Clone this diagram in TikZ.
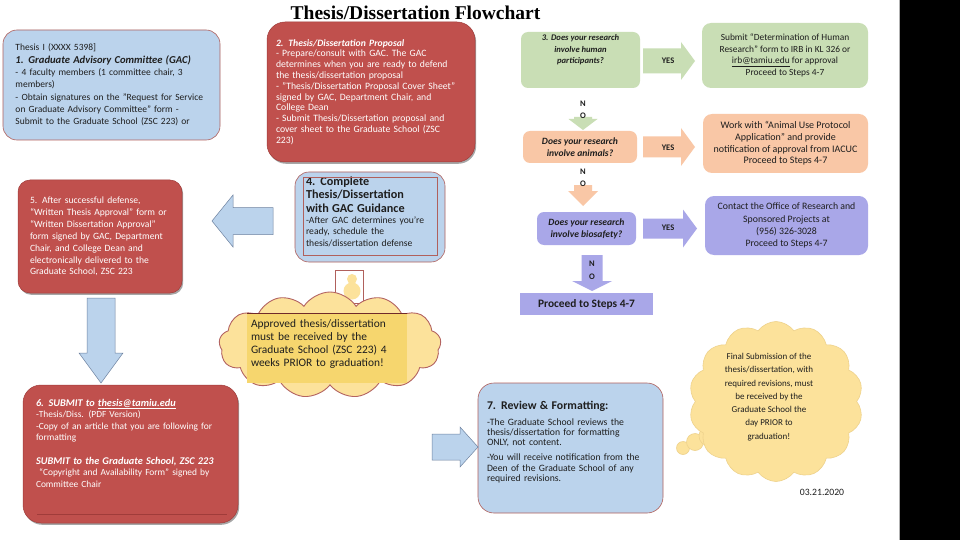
\documentclass[tikz,border=0pt]{standalone}
\usepackage{fontspec}
\setmainfont{Carlito}
\newfontfamily\titlefont{Liberation Serif}
\usetikzlibrary{shapes.symbols,calc,shadows}
\definecolor{cBlue}{RGB}{187,211,236}
\definecolor{cBlueEdge}{RGB}{176,96,92}
\definecolor{cArrowEdge}{RGB}{110,130,160}
\definecolor{cRed}{RGB}{192,80,77}
\definecolor{cRedDark}{RGB}{160,60,58}
\definecolor{cGreen}{RGB}{201,222,181}
\definecolor{cOrange}{RGB}{249,199,166}
\definecolor{cPurple}{RGB}{169,167,232}
\definecolor{cYellow}{RGB}{252,226,155}
\definecolor{cYellowEdge}{RGB}{238,210,140}
\definecolor{cYellowDeep}{RGB}{246,214,110}
\definecolor{cText}{RGB}{30,30,30}
% horizontal block arrow: style, from, to, half body, half head, head length
\newcommand\hbarrow[6]{%
  \path[#1] let \p1=#2, \p2=#3, \n1={sign(\x2-\x1)*(#6)} in
    (\x1,\y1+#4) -- (\x2-\n1,\y1+#4) -- (\x2-\n1,\y1+#5) -- (\x2,\y1)
    -- (\x2-\n1,\y1-#5) -- (\x2-\n1,\y1-#4) -- (\x1,\y1-#4) -- cycle;}
% vertical block arrow
\newcommand\vbarrow[6]{%
  \path[#1] let \p1=#2, \p2=#3, \n1={sign(\y2-\y1)*(#6)} in
    (\x1+#4,\y1) -- (\x1+#4,\y2-\n1) -- (\x1+#5,\y2-\n1) -- (\x1,\y2)
    -- (\x1-#5,\y2-\n1) -- (\x1-#4,\y2-\n1) -- (\x1-#4,\y1) -- cycle;}
\begin{document}
\begin{tikzpicture}[x=1pt,y=-1pt,
  every node/.style={inner sep=0pt, outer sep=0pt},
  boxbase/.style={align=left},
  bluebx/.style={boxbase, rounded corners=14pt, fill=cBlue, draw=cBlueEdge, line width=0.6pt, text=cText},
  redbx/.style={boxbase, fill=cRed, draw=cRedDark, line width=0.5pt, text=white,
     drop shadow={shadow xshift=1.2pt, shadow yshift=-1.8pt, opacity=0.35, fill=black}},
  qbox/.style={rounded corners=7pt, align=center, text=cText, font=\fontsize{9.6}{12}\selectfont\bfseries\itshape},
  infobox/.style={rounded corners=9pt, align=center, text=cText, font=\fontsize{9.4}{11.7}\selectfont},
  lab/.style={text=cText, font=\fontsize{8.5}{11.5}\selectfont\bfseries, align=center},
  bluearrow/.style={fill=cBlue, draw=cArrowEdge, line width=0.5pt},
]
\useasboundingbox (0,0) rectangle (960,540);
\fill[white] (0,0) rectangle (960,540);

% title
\node[anchor=base, font=\titlefont\bfseries\fontsize{19.5}{20}\selectfont] (title) at (415.5,20) {Thesis/Dissertation Flowchart};

% box 1
\node[bluebx, minimum width=217pt, minimum height=110pt, text width=192pt,
  font=\fontsize{9.5}{12.3}\selectfont] (b1) at (111.5,85)
 {Thesis I (XXXX 5398]\\
  {\fontsize{10.6}{12.3}\selectfont\bfseries\itshape 1. Graduate Advisory Committee (GAC)}\\
  - 4 faculty members (1 committee chair, 3\\
  members)\\
  - Obtain signatures on the "Request for Service\\
  on Graduate Advisory Committee" form -\\
  Submit to the Graduate School (ZSC 223) or};

% box 2
\node[redbx, rounded corners=18pt, minimum width=208pt, minimum height=140pt, text width=190pt,
  font=\fontsize{9.7}{10.8}\selectfont] (b2) at (371,92)
 {{\bfseries\itshape 2. Thesis/Dissertation Proposal}\\
  - Prepare/consult with GAC. The GAC\\
  determines when you are ready to defend\\
  the thesis/dissertation proposal\\
  - "Thesis/Dissertation Proposal Cover Sheet"\\
  signed by GAC, Department Chair, and\\
  College Dean\\
  - Submit Thesis/Dissertation proposal and\\
  cover sheet to the Graduate School (ZSC\\
  223)};

% decision column
\node[qbox, fill=cGreen, minimum width=119pt, minimum height=56pt, font=\fontsize{8.6}{11.5}\selectfont\bfseries\itshape] (q1) at (580.5,60)
 {3. Does your research\\ involve human\\ participants?\rule[-22pt]{0pt}{0pt}};
\node[infobox, fill=cGreen, minimum width=166pt, minimum height=65pt] (g2) at (785,55.5)
 {Submit “Determination of Human\\ Research” form to IRB in KL 326 or\\ \underline{irb@tamiu.edu} for approval\\ Proceed to Steps 4-7};
\node[qbox, fill=cOrange, minimum width=114pt, minimum height=32pt] (q2) at (580,147)
 {Does your research\\ involve animals?};
\node[infobox, fill=cOrange, minimum width=165pt, minimum height=59pt, font=\fontsize{10}{11.7}\selectfont] (o2) at (785.5,143.5)
 {Work with “Animal Use Protocol\\ Application” and provide\\ notification of approval from IACUC\\ Proceed to Steps 4-7};
\node[qbox, fill=cPurple, minimum width=99pt, minimum height=33pt] (q3) at (586.5,228.5)
 {Does your research\\ involve biosafety?};
\node[infobox, fill=cPurple, minimum width=163pt, minimum height=59pt, font=\fontsize{9.8}{12.2}\selectfont] (p2) at (786.5,225.5)
 {Contact the Office of Research and\\ Sponsored Projects at\\ (956) 326-3028\\ Proceed to Steps 4-7};
\node[fill=cPurple, minimum width=133pt, minimum height=22pt, text=cText,
  font=\fontsize{11.4}{12}\selectfont\bfseries] (p3) at (586.5,304) {Proceed to Steps 4-7};

% YES arrows
\hbarrow{fill=cGreen}{($(q1.east)+(3,1)$)}{($(g2.west)+(-7,0)$)}{12.5}{19}{14}
\hbarrow{fill=cOrange}{($(q2.east)+(6,0)$)}{($(o2.west)+(-8,0)$)}{10.5}{19}{14}
\hbarrow{fill=cPurple}{($(q3.east)+(7,0)$)}{($(p2.west)+(-8,0)$)}{10}{19}{14}
\node[lab] (yes1) at (668,61) {YES};
\node[lab] (yes2) at (668,148) {YES};
\node[lab] (yes3) at (668,228) {YES};

% NO arrows
\vbarrow{fill=cGreen}{($(q1.south)+(2.5,29)$)}{($(q2.north)+(3,-1)$)}{9}{14.5}{11}
\vbarrow{fill=cOrange}{($(q2.south)+(3,22)$)}{($(q2.south)+(3,43)$)}{9}{15}{15}
\vbarrow{fill=cPurple}{($(q3.south)+(5.5,10)$)}{($(p3.north)+(0,-2)$)}{10.5}{20}{10}
\node[lab, font=\fontsize{8.5}{11.5}\selectfont\bfseries] (no1) at (583,110) {N\\O};
\node[lab, font=\fontsize{8.5}{12}\selectfont\bfseries] (no2) at (583,178) {N\\O};
\node[lab, font=\fontsize{8.5}{13}\selectfont\bfseries] (no3) at (592,270) {N\\O};

% box 4
\node[bluebx, minimum width=150pt, minimum height=90pt, text width=128pt] (b4) at (370,217)
 {{\fontsize{12.2}{13.3}\selectfont\bfseries 4. Complete\\ Thesis/Dissertation\\ with GAC Guidance\par}
  {\fontsize{9.6}{11.3}\selectfont -After GAC determines you're\\ ready, schedule the\\ thesis/dissertation defense\rule[-11pt]{0pt}{0pt}\par}};
\draw[cBlueEdge, line width=0.5pt] ($(b4.north west)+(8,5)$) rectangle ($(b4.south east)+(-8,-7)$);

% box 5
\node[redbx, rounded corners=12pt, minimum width=164pt, minimum height=113pt, text width=140pt,
  font=\fontsize{9.6}{11.9}\selectfont] (b5) at (100,236.5)
 {5. After successful defense,\\
  “Written Thesis Approval” form or\\
  “Written Dissertation Approval”\\
  form signed by GAC, Department\\
  Chair, and College Dean and\\
  electronically delivered to the\\
  Graduate School, ZSC 223};

% left arrow 4 -> 5
\hbarrow{bluearrow}{($(b4.west)+(-22,4)$)}{($(b5.east)+(30,0)$)}{13.5}{26}{21}

% small thought tail near box 4
\draw[cBlueEdge, line width=0.5pt] (335,270) rectangle (363,303);
\fill[cYellow] (352,279) circle (5);
\fill[cYellow] (352,291) circle (8.5);

% bottom-left cloud note
\node[cloud, cloud puffs=13, cloud puff arc=115, aspect=2.2, fill=cYellow, draw=cRedDark!80, line width=0.9pt,
  minimum width=222pt, minimum height=106pt] (cl1) at (330,345) {};
\node[fill=cYellowDeep, minimum width=160pt, minimum height=70pt, text width=152pt, align=left,
  text=cText, font=\fontsize{11.4}{13.3}\selectfont] (note1) at (327,348)
 {Approved thesis/dissertation\\ must be received by the\\ Graduate School (ZSC 223) 4\\ weeks PRIOR to graduation!\rule[-10pt]{0pt}{0pt}};
\draw[cRedDark!70!black, line width=0.6pt] (note1.north west) -- (note1.north east);

% down arrow 5 -> 6
\vbarrow{bluearrow}{($(b5.south)+(1,5)$)}{($(b5.south)+(1,90)$)}{14}{22}{30}

% box 6
\node[redbx, rounded corners=18pt, minimum width=215pt, minimum height=138pt, text width=189pt,
  font=\fontsize{9.4}{11.6}\selectfont] (b6) at (130.5,454)
 {{\fontsize{10.3}{11.6}\selectfont\bfseries\itshape 6. SUBMIT to \underline{thesis@tamiu.edu}}\\
  -Thesis/Diss. (PDF Version)\\
  -Copy of an article that you are following for\\
  formatting\\[11.6pt]
  {\fontsize{10.3}{11.6}\selectfont\bfseries\itshape SUBMIT to the Graduate School, ZSC 223}\\
  \ “Copyright and Availability Form” signed by\\
  Committee Chair\rule[-22pt]{0pt}{0pt}};
\draw[cRedDark, line width=1pt] ($(b6.south west)+(14,-9)$) -- ($(b6.south east)+(-11,-9)$);

% box 7
\node[bluebx, rounded corners=16pt, minimum width=185pt, minimum height=130pt, text width=167pt] (b7) at (570.5,448)
 {{\fontsize{11.8}{13}\selectfont\bfseries 7. Review \& Formatting:\par}
  \vspace{6pt}
  {\fontsize{9.7}{10.2}\selectfont -The Graduate School reviews the\\ thesis/dissertation for formatting\\ ONLY, not content.\par}
  \vspace{5pt}
  {\fontsize{9.7}{10.2}\selectfont -You will receive notification from the\\ Deen of the Graduate School of any\\ required revisions.\rule[-14pt]{0pt}{0pt}\par}};

% right arrow 6 -> 7
\hbarrow{bluearrow}{($(b6.east)+(194,-7)$)}{($(b7.west)$)}{13}{20}{18}

% bottom-right cloud with thought bubbles
\filldraw[fill=cYellow, draw=cYellowEdge, line width=0.6pt] (683,448) circle (6.5);
\filldraw[fill=cYellow, draw=cYellowEdge, line width=0.6pt] (695,442) circle (8.5);
\filldraw[fill=cYellow, draw=cYellowEdge, line width=0.6pt] (709,436) circle (10);
\node[cloud, cloud puffs=14, cloud puff arc=110, aspect=1.1, fill=cYellow, draw=cYellowEdge, line width=0.6pt,
  minimum width=174pt, minimum height=160pt] (cl2) at (776,401.5) {};
\node[align=center, text=cText, font=\fontsize{9}{13.3}\selectfont] (note2) at (769,397)
 {Final Submission of the\\ thesis/dissertation, with\\ required revisions, must\\ be received by the\\ Graduate School the\\ day PRIOR to\\ graduation!};

% date
\node[text=cText, font=\fontsize{9.7}{10}\selectfont] (date) at (822,492) {03.21.2020};

% black band on right
\fill[black] (900,0) rectangle (960,540);
\draw[gray!60, line width=0.8pt] (899.5,0) -- (899.5,540);
\end{tikzpicture}
\end{document}
